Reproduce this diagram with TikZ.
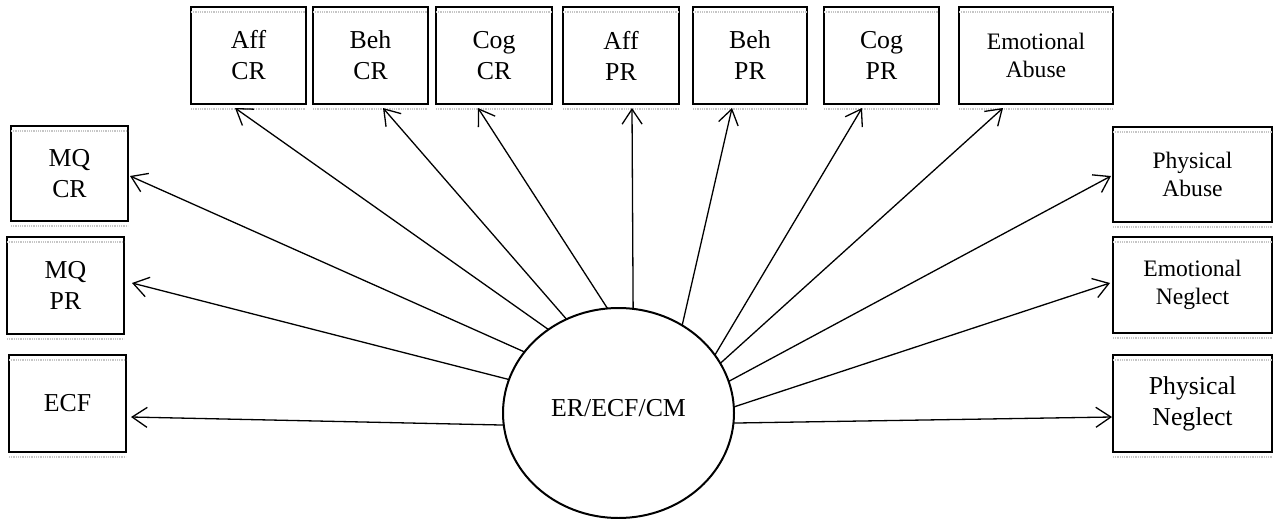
\documentclass[tikz,border=0pt]{standalone}
\usepackage{fontspec}
\setmainfont{Liberation Serif}[Ligatures=CommonOff]
\usetikzlibrary{arrows.meta,shapes.geometric}
\begin{document}
\begin{tikzpicture}[x=1pt,y=-1pt,
  box/.style={draw, line width=2pt, rectangle, inner sep=0pt, outer sep=0pt,
    align=center, font=\fontsize{25.8}{31}\selectfont},
  smallbox/.style={box, font=\fontsize{23.6}{28}\selectfont},
  oval/.style={draw, line width=2pt, ellipse, inner sep=0pt, outer sep=0pt,
    minimum width=231pt, minimum height=210pt, font=\fontsize{25.8}{30}\selectfont},
  conn/.style={line width=1.3pt, -{Straight Barb[length=15pt,width=20pt]}},
  grayline/.style={gray!45, line width=1.2pt, dash pattern=on 1pt off 0.8pt}
]
\useasboundingbox (0,0) rectangle (1277,519);

% top row
\node[box, minimum width=115pt, minimum height=97pt] (AffCR) at (248.5,55.5) {Aff\\CR};
\node[box, minimum width=115pt, minimum height=97pt] (BehCR) at (370.5,55.5) {Beh\\CR};
\node[box, minimum width=116pt, minimum height=97pt] (CogCR) at (494,55.5) {Cog\\CR};
\node[box, minimum width=116pt, minimum height=97pt] (AffPR) at (621,55.5) {Aff\\PR};
\node[box, minimum width=114pt, minimum height=97pt] (BehPR) at (750,55.5) {Beh\\PR};
\node[box, minimum width=115pt, minimum height=97pt] (CogPR) at (881.5,55.5) {Cog\\PR};
\node[smallbox, minimum width=154pt, minimum height=97pt] (EmoAbuse) at (1036,55.5) {Emotional\\Abuse};

% left column
\node[box, minimum width=117pt, minimum height=95pt] (MQCR) at (69.5,173.5) {MQ\\CR};
\node[box, minimum width=117pt, minimum height=97pt] (MQPR) at (65.5,285.5) {MQ\\PR};
\node[box, minimum width=117pt, minimum height=97pt] (ECF) at (67.5,403.5) {ECF};

% right column
\node[smallbox, minimum width=159pt, minimum height=95pt] (PhysAbuse) at (1192.5,174.5) {Physical\\Abuse};
\node[smallbox, minimum width=159pt, minimum height=96pt] (EmoNeglect) at (1192.5,285) {Emotional\\Neglect};
\node[box, minimum width=159pt, minimum height=97pt] (PhysNeglect) at (1192.5,403.5) {Physical\\Neglect};

% centre
\node[oval] (E) at (618.5,413) {\smash{\raisebox{-3.6pt}{ER/ECF/CM}}};

% faint lines of the boxes
\foreach \b in {AffCR,BehCR,CogCR,AffPR,BehPR,CogPR,EmoAbuse,MQCR,MQPR,ECF,PhysAbuse,EmoNeglect,PhysNeglect}{
  \draw[grayline] ([yshift=-5pt]\b.north west) -- ([yshift=-5pt]\b.north east);
  \draw[grayline] ([yshift=-5pt]\b.south west) -- ([yshift=-5pt]\b.south east);
}

% connectors
\draw[conn] (E.147.4) -- ([xshift=2pt,yshift=-2.5pt]MQCR.east);
\draw[conn] (E.163.5) -- ([xshift=8pt,yshift=2.5pt]MQPR.east);
\draw[conn] (E.186.9) -- ([xshift=5pt,yshift=-13.5pt]ECF.east);
\draw[conn] (E.130.7) -- ([xshift=-13.5pt,yshift=-4pt]AffCR.south);
\draw[conn] (E.119.6) -- ([xshift=12.5pt,yshift=-4pt]BehCR.south);
\draw[conn] (E.96.8) -- ([xshift=-16pt,yshift=-4pt]CogCR.south);
\draw[conn] (E.82.7) -- ([xshift=11pt,yshift=-4pt]AffPR.south);
\draw[conn] (E.54.5) -- ([xshift=-18pt,yshift=-4pt]BehPR.south);
\draw[conn] (E.31.3) -- ([xshift=-19.5pt,yshift=-4pt]CogPR.south);
\draw[conn] (E.26.2) -- ([xshift=-33pt,yshift=-4pt]EmoAbuse.south);
\draw[conn] (E.16.8) -- ([xshift=-2pt,yshift=-1.5pt]PhysAbuse.west);
\draw[conn] (E.3.5) -- ([xshift=-3pt,yshift=2pt]EmoNeglect.west);
\draw[conn] (E.355.5) -- ([xshift=-1pt,yshift=-13.5pt]PhysNeglect.west);
\end{tikzpicture}
\end{document}
